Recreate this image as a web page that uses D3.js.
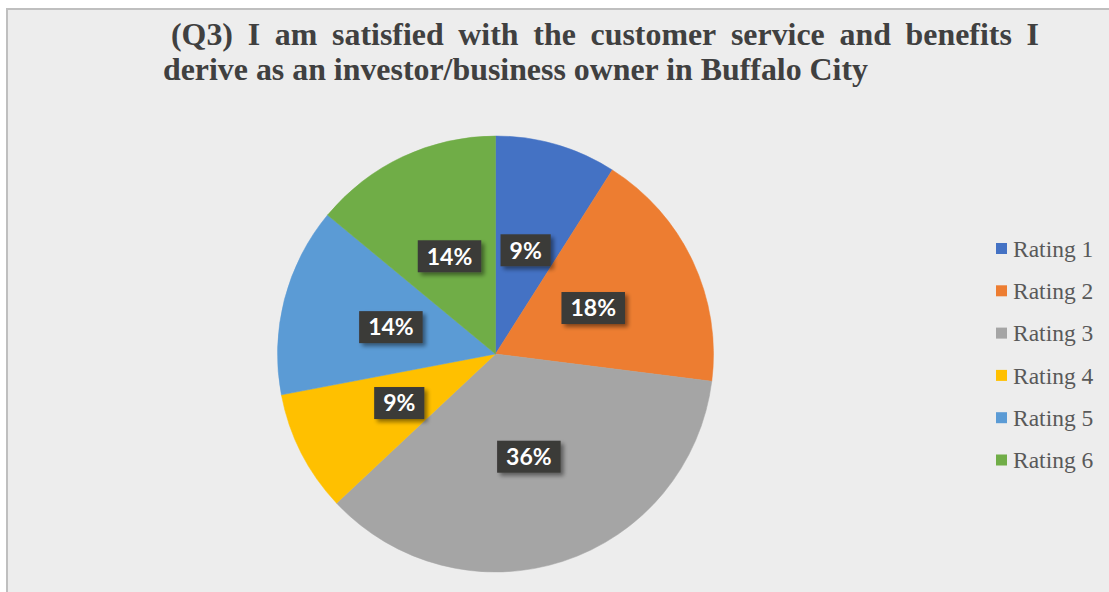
<!DOCTYPE html>
<html>
<head>
<meta charset="utf-8">
<script src="https://cdn.jsdelivr.net/npm/d3@7"></script>
<style>
  html, body { margin: 0; padding: 0; background: #ffffff; }
  svg { display: block; }
</style>
</head>
<body>
<svg id="chart" width="1109" height="592"></svg>
<script>
// Survey responses, share of respondents per rating (%)
const categories = ["Rating 1", "Rating 2", "Rating 3", "Rating 4", "Rating 5", "Rating 6"];
const values = [9, 18, 36, 9, 14, 14];
const colors = ["#4472C4", "#ED7D31", "#A5A5A5", "#FFC000", "#5B9BD5", "#70AD47"];
const titleLines = [
  "(Q3) I am satisfied with the customer service and benefits I",
  "derive as an investor/business owner in Buffalo City"
];

const svg = d3.select("#chart");
const W = 1109, H = 592;

// chart frame
svg.append("rect")
  .attr("x", 7).attr("y", 9)
  .attr("width", W + 10).attr("height", H + 10)
  .attr("fill", "#ededed")
  .attr("stroke", "#bfbfbf").attr("stroke-width", 2);

// drop shadow for the data labels
const defs = svg.append("defs");
const f = defs.append("filter").attr("id", "lblShadow")
  .attr("x", "-30%").attr("y", "-30%").attr("width", "160%").attr("height", "160%");
f.append("feGaussianBlur").attr("in", "SourceAlpha").attr("stdDeviation", 2.2).attr("result", "b");
f.append("feOffset").attr("in", "b").attr("dx", 3).attr("dy", 3).attr("result", "o");
f.append("feComponentTransfer").attr("in", "o").attr("result", "s")
  .append("feFuncA").attr("type", "linear").attr("slope", 0.45);
const fm = f.append("feMerge");
fm.append("feMergeNode").attr("in", "s");
fm.append("feMergeNode").attr("in", "SourceGraphic");

// title: narrow bold serif, first line justified, second line left-aligned
const titleFont = "bold 31px 'Liberation Serif', 'Times New Roman', serif";
const titleG = svg.append("g").attr("fill", "#404040")
  .style("font", titleFont);

(function drawTitle() {
  // line 2 sets the horizontal condensing factor
  const t2 = titleG.append("text").attr("x", 163).attr("y", 80).text(titleLines[1]);
  const w2 = t2.node().getComputedTextLength();
  const target = 868 - 163;
  const sx = target / w2;
  t2.attr("textLength", target).attr("lengthAdjust", "spacingAndGlyphs");

  // line 1, condensed words spread between left and right edges
  const x0 = 171, x1 = 1039, y1 = 45;
  const words = titleLines[0].split(" ");
  const tmp = words.map(w => titleG.append("text").attr("y", y1).text(w));
  const widths = tmp.map(t => t.node().getComputedTextLength() * sx);
  const total = d3.sum(widths);
  const gap = (x1 - x0 - total) / (words.length - 1);
  let x = x0;
  tmp.forEach((t, i) => {
    t.attr("x", x).attr("textLength", widths[i]).attr("lengthAdjust", "spacingAndGlyphs");
    x += widths[i] + gap;
  });
})();

// pie
const cx = 495.5, cy = 354, R = 218;
const pie = d3.pie().sort(null).value(d => d)(values);
const arc = d3.arc().innerRadius(0).outerRadius(R);
const labelArc = d3.arc().innerRadius(108).outerRadius(108);

const g = svg.append("g").attr("transform", `translate(${cx},${cy})`);
g.selectAll("path.slice").data(pie).join("path")
  .attr("class", "slice")
  .attr("d", arc)
  .attr("fill", (d, i) => colors[i])
  .attr("stroke", (d, i) => colors[i])
  .attr("stroke-width", 0.5);

// data labels in dark boxes
const lbl = g.selectAll("g.lbl").data(pie).join("g")
  .attr("class", "lbl")
  .attr("transform", d => `translate(${labelArc.centroid(d)})`);

lbl.each(function (d) {
  const sel = d3.select(this);
  const rect = sel.append("rect").attr("fill", "#3b3a39").attr("filter", "url(#lblShadow)");
  const txt = sel.append("text")
    .attr("text-anchor", "middle")
    .attr("dy", "0.36em")
    .attr("fill", "#ffffff")
    .style("font", "bold 23px Lato, 'Open Sans', sans-serif")
    .text(d.data + "%");
  const w = txt.node().getComputedTextLength();
  const bw = w + 18, bh = 32;
  rect.attr("x", -bw / 2).attr("y", -bh / 2).attr("width", bw).attr("height", bh);
});

// legend
const y = d3.scalePoint().domain(categories).range([248.5, 460]);
const leg = svg.append("g");
const item = leg.selectAll("g").data(categories).join("g")
  .attr("transform", d => `translate(996,${y(d)})`);
item.append("rect")
  .attr("x", 0).attr("y", -5.5).attr("width", 11).attr("height", 11)
  .attr("fill", (d, i) => colors[i]);
item.append("text")
  .attr("x", 17).attr("dy", "0.35em")
  .attr("fill", "#595959")
  .style("font", "23.5px 'Liberation Serif', 'Times New Roman', serif")
  .text(d => d);
</script>
</body>
</html>
